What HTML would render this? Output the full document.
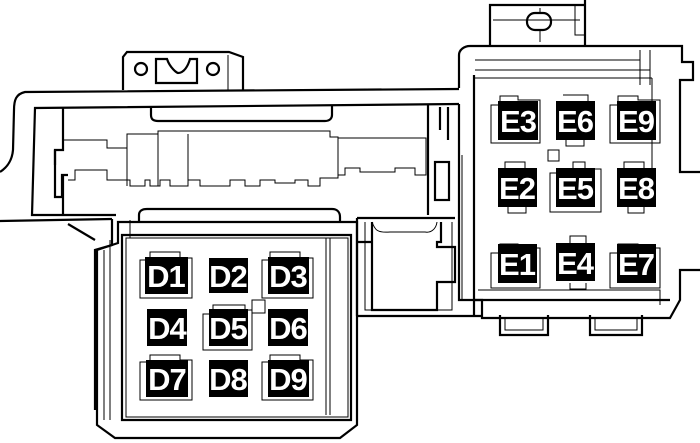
<!DOCTYPE html>
<html><head><style>
html,body{margin:0;padding:0;background:#fff;width:700px;height:443px;overflow:hidden}
svg{display:block}
.l{fill:none;stroke:#000;stroke-width:2.2}
.t{fill:none;stroke:#000;stroke-width:1}
.b{fill:#000}
text{font-family:"Liberation Sans",sans-serif;font-weight:bold;font-size:31px;letter-spacing:-1px;fill:#fff;text-anchor:middle}
</style></head><body>
<svg width="700" height="443" viewBox="0 0 700 443">
<!-- bracket -->
<path class="l" d="M123,90 V57 L127,52 H229 L243,57 V90"/>
<line class="t" x1="228" y1="55" x2="228" y2="90"/>
<circle class="l" cx="141" cy="69" r="6"/>
<circle class="l" cx="213" cy="69" r="6"/>
<path class="l" d="M156,83 V59 H167 C170,68 177,73 178,73 C184,73 188,66 190,59 H197 V83 Z"/>
<!-- main left housing -->
<path class="l" d="M459,89 L25,92 C16,94 14,100 14,110 L13,150 C12,162 6,168 0,172"/>
<path class="l" d="M0,221 L112,219"/>
<path class="l" d="M68,224 L95,240"/>
<path class="l" d="M459,104 L35,108 L32,215 L116,215"/>
<path class="l" d="M63,108 V150 H55 V165 M63,175 V215"/>
<path class="l" d="M55,150 V197 H62 V175 L68,175"/>
<path class="l" d="M151,107 V115 C151,119 153,121 158,121 H325 C330,121 332,118 332,115 V106"/>
<path class="t" d="M64,140 H107 V148 H127 V134 H158 V131 H330 V137 H338 V138 H426 V175 H415 V168 H395 V172 H360 V168 H345 V175 H338 V178 H320 V186 H308 V180 H295 V183 H275 V180 H260 V186 H245 V180 H230 V186 H200 V180 H188 V186 H170 V180 H160 V186 H150 V180 H145 V186 H130 V180 H107 V170 H75 V180 H68"/>
<path class="t" d="M127,148 V186 M158,134 V186 M188,134 V180 M338,137 V175"/>
<path class="l" d="M428,105 V215 M440,107 V130 M448,107 V140"/>
<rect class="l" x="435" y="162" width="14" height="38"/>
<path class="l" d="M112,219 V245 L95,250 V410"/>
<!-- D box -->
<path class="l" d="M139,222 V215 C139,211 142,209 147,209 H332 C337,209 340,212 340,217 V222"/>
<path class="l" d="M118,222 H357 V425 L340,438 H115 L97,425 V250 L118,243 Z"/>
<path class="l" d="M122,235 H351 V420 H122 Z"/>
<path class="t" d="M126,238 H348 V417 H126 Z M104,250 V420 M110,240 V420 M326,238 V415 M330,238 V415"/>
<path class="t" d="M130,220 V238 M118,222 V240"/>
<!-- middle section -->
<path class="l" d="M357,218 H455 M357,316 H482 M357,218 V316"/>
<path class="l" d="M372,222 V242 H357 M372,242 V310 H437 V282 H455 V247 H437 V242 H441 V222"/>
<path class="t" d="M372,222 C375,230 377,233 390,232 H425 C430,233 436,230 437,222"/>
<path class="t" d="M365,222 V310 H452 V222"/>
<!-- E housing -->
<path class="l" d="M490,45 V5 H585 V45 M585,5 V0"/>
<rect class="l" x="527" y="13" width="24" height="17" rx="8"/>
<path class="t" d="M493,20 H580 M540,8 V12 M540,31 V42 M575,5 V35 H585"/>
<path class="l" d="M459,88 V55 C459,50 464,46 470,46 H682 V62 H693 V80 H680 V172 H700"/>
<path class="l" d="M700,270 H680 V300 L670,318 H482 V300 H459 V104"/>
<path class="l" d="M474,75 V300 M474,300 H670 M474,300 V315"/>
<path class="t" d="M475,60 H640 M475,70 H650 M475,78 H652 M640,50 V85 M650,50 V85 M652,78 V172 M478,290 H660 V305 M462,155 V300"/>
<path class="l" d="M500,315 V335 H548 V315 M590,315 V335 H642 V315"/>
<path class="t" d="M505,318 V330 H543 V318 M595,318 V330 H637 V318"/>
<rect class="t" x="548" y="150" width="11" height="11"/>
<rect class="t" x="252" y="300" width="13" height="13"/>
<!-- connector outlines E -->
<path class="t" d="M491,105 H500 V96 H518 V100 H540 V143 H491 Z M610,105 H618 V96 H638 V100 H660 V143 H610 Z M563,95 H588 V101 M566,140 V146 H584 V140 M491,253 H500 V244 H518 V248 H540 V288 H491 Z M610,253 H618 V244 H638 V248 H660 V288 H610 Z M550,173 H573 V162 H585 V169 H601 V212 H550 Z M505,168 V162 H525 V168 M624,168 V162 H644 V168 M508,207 V213 H526 V207 M628,207 V213 H644 V207 M570,283 V289 H586 V283 M570,243 V236 H586 V243"/>
<path class="t" d="M140,260 H150 V252 H180 V258 H192 V298 H140 Z M262,260 H270 V252 H300 V258 H313 V298 H262 Z M140,362 H150 V355 H180 V360 H192 V400 H140 Z M262,362 H270 V355 H300 V360 H313 V400 H262 Z M203,314 H213 V305 H245 V310 H252 V350 H203 Z"/>
<!-- labels -->
<g>
<rect class="b" x="145" y="257" width="43" height="37"/><text x="166" y="287">D1</text>
<rect class="b" x="209" y="258" width="39" height="35"/><text x="228" y="287">D2</text>
<rect class="b" x="268" y="257" width="41" height="37"/><text x="288" y="287">D3</text>
<rect class="b" x="147" y="309" width="40" height="37"/><text x="167" y="339">D4</text>
<rect class="b" x="209" y="309" width="39" height="37"/><text x="228" y="339">D5</text>
<rect class="b" x="268" y="309" width="40" height="37"/><text x="288" y="339">D6</text>
<rect class="b" x="146" y="360" width="42" height="37"/><text x="167" y="390">D7</text>
<rect class="b" x="209" y="360" width="39" height="37"/><text x="228" y="390">D8</text>
<rect class="b" x="268" y="360" width="41" height="37"/><text x="288" y="390">D9</text>
<rect class="b" x="498" y="101" width="40" height="39"/><text x="518" y="132">E3</text>
<rect class="b" x="556" y="101" width="39" height="39"/><text x="575" y="132">E6</text>
<rect class="b" x="617" y="101" width="39" height="39"/><text x="636" y="132">E9</text>
<rect class="b" x="498" y="168" width="39" height="39"/><text x="517" y="199">E2</text>
<rect class="b" x="556" y="168" width="39" height="39"/><text x="575" y="199">E5</text>
<rect class="b" x="617" y="168" width="39" height="39"/><text x="636" y="199">E8</text>
<rect class="b" x="498" y="244" width="39" height="39"/><text x="517" y="275">E1</text>
<rect class="b" x="556" y="243" width="39" height="38"/><text x="575" y="274">E4</text>
<rect class="b" x="617" y="244" width="39" height="39"/><text x="636" y="275">E7</text>
</g>
</svg>
</body></html>
